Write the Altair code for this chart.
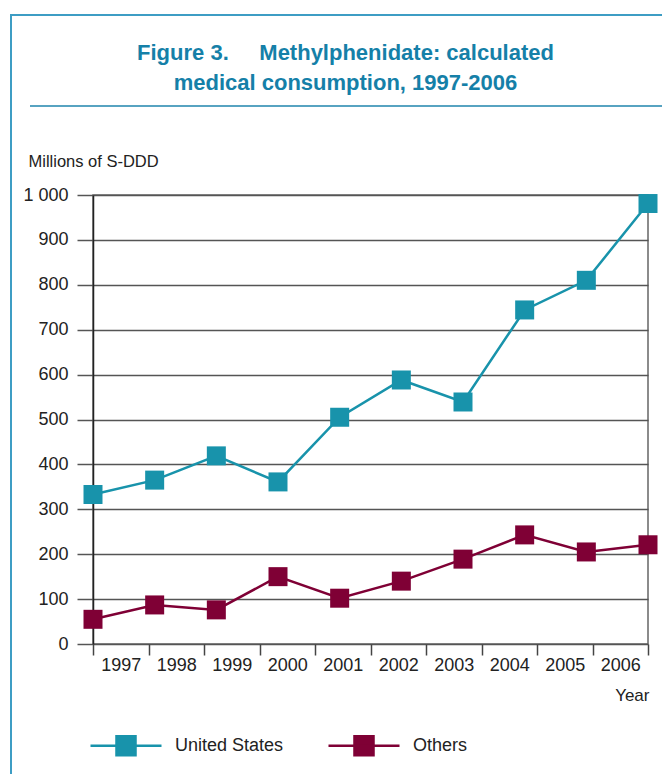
import altair as alt
import pandas as pd

years = [1997, 1998, 1999, 2000, 2001, 2002, 2003, 2004, 2005, 2006]
united_states = [333, 365, 419, 361, 505, 588, 539, 744, 810, 981]
others = [55, 87, 76, 150, 102, 140, 189, 243, 205, 221]
series_names = ["United States", "Others"]
series_colors = ["#1893ab", "#7f0035"]
y_ticks = [0, 100, 200, 300, 400, 500, 600, 700, 800, 900, 1000]
title_lines = ["Figure 3.\u00a0\u00a0\u00a0\u00a0 Methylphenidate: calculated",
               "medical consumption, 1997-2006"]

FONT = "Liberation Sans, Arial, sans-serif"

rows = []
for name, vals in zip(series_names, [united_states, others]):
    for yr, v in zip(years, vals):
        rows.append({"Year": yr, "Series": name, "Value": v})
df = pd.DataFrame(rows)
df_years = pd.DataFrame({"YearLabel": [str(y) for y in years]})
one = pd.DataFrame({"a": [0]})

W, H = 555, 449

legend = alt.Legend(
    title=None,
    orient="none",
    legendX=-4,
    legendY=513.5,
    direction="horizontal",
    symbolType="M-1,0H1M-0.268,-0.268H0.268V0.268H-0.268Z",
    symbolSize=5041,
    symbolStrokeWidth=2.5,
    symbolOpacity=1,
    labelFont=FONT,
    labelFontSize=18,
    labelColor="#222222",
    labelOffset=12,
    columnPadding=39,
    padding=0,
    labelLimit=300,
)

color = alt.Color(
    "Series:N",
    scale=alt.Scale(domain=series_names, range=series_colors),
    legend=legend,
)

xq = alt.X("Year:Q", scale=alt.Scale(domain=[1997, 2006], nice=False, zero=False), axis=None)
yq = alt.Y(
    "Value:Q",
    scale=alt.Scale(domain=[0, 1000], nice=False),
    axis=alt.Axis(
        values=y_ticks,
        title="Millions of S-DDD",
        titleAngle=0,
        titleAlign="left",
        titleBaseline="alphabetic",
        titleX=-65,
        titleY=-29,
        titleFont=FONT,
        titleFontSize=16.5,
        titleFontWeight="normal",
        titleColor="#222222",
        labelExpr="datum.value == 1000 ? '1 000' : datum.label",
        labelFont=FONT,
        labelFontSize=18,
        labelColor="#222222",
        labelPadding=9,
        tickSize=16,
        tickColor="#555555",
        tickWidth=1.5,
        grid=True,
        gridColor="#555555",
        gridWidth=1.5,
        domainColor="#222222",
        domainWidth=1.5,
    ),
)

lines = alt.Chart(df).mark_line(strokeWidth=2.5).encode(
    x=xq, y=yq, color=color, detail="Series:N"
)
squares = alt.Chart(df).mark_square(size=361, opacity=1, filled=True).encode(
    x=xq, y=yq, color=color
)
data_layers = alt.layer(lines, squares)

x_axis_layer = alt.Chart(df_years).mark_point(opacity=0).encode(
    x=alt.X(
        "YearLabel:O",
        scale=alt.Scale(type="band", paddingInner=0, paddingOuter=0),
        axis=alt.Axis(
            title="Year",
            titleAlign="right",
            titleBaseline="alphabetic",
            titleX=556,
            titleY=56,
            titleFont=FONT,
            titleFontSize=17,
            titleFontWeight="normal",
            titleColor="#222222",
            labelAngle=0,
            labelFont=FONT,
            labelFontSize=18,
            labelColor="#222222",
            labelPadding=1,
            tickBand="extent",
            tickSize=11,
            tickColor="#444444",
            tickWidth=1.5,
            domain=False,
            grid=False,
        ),
    )
)

border = alt.Chart(one).mark_rect(filled=False, stroke="#3d9dc4", strokeWidth=2).encode(
    x=alt.value(-82), x2=alt.value(800), y=alt.value(-180), y2=alt.value(800)
)
title_rule = alt.Chart(one).mark_rule(stroke="#1f84ad", strokeWidth=1.5).encode(
    x=alt.value(-63), x2=alt.value(570), y=alt.value(-89)
)
title_text = alt.Chart(one).mark_text(
    text=title_lines,
    font=FONT,
    fontSize=22,
    fontWeight="bold",
    color="#1580a8",
    align="center",
    baseline="alphabetic",
    lineHeight=30,
).encode(x=alt.value(252.5), y=alt.value(-135))

chart = alt.layer(border, title_rule, title_text, x_axis_layer, data_layers).resolve_scale(
    x="independent"
).properties(
    width=W,
    height=H,
    autosize=alt.AutoSizeParams(type="none"),
    padding={"left": 85, "top": 187, "right": 14, "bottom": 130},
).configure_view(stroke="#666666", strokeWidth=1.5)

chart.save("out.html", embed_options={"renderer": "svg", "actions": False})
